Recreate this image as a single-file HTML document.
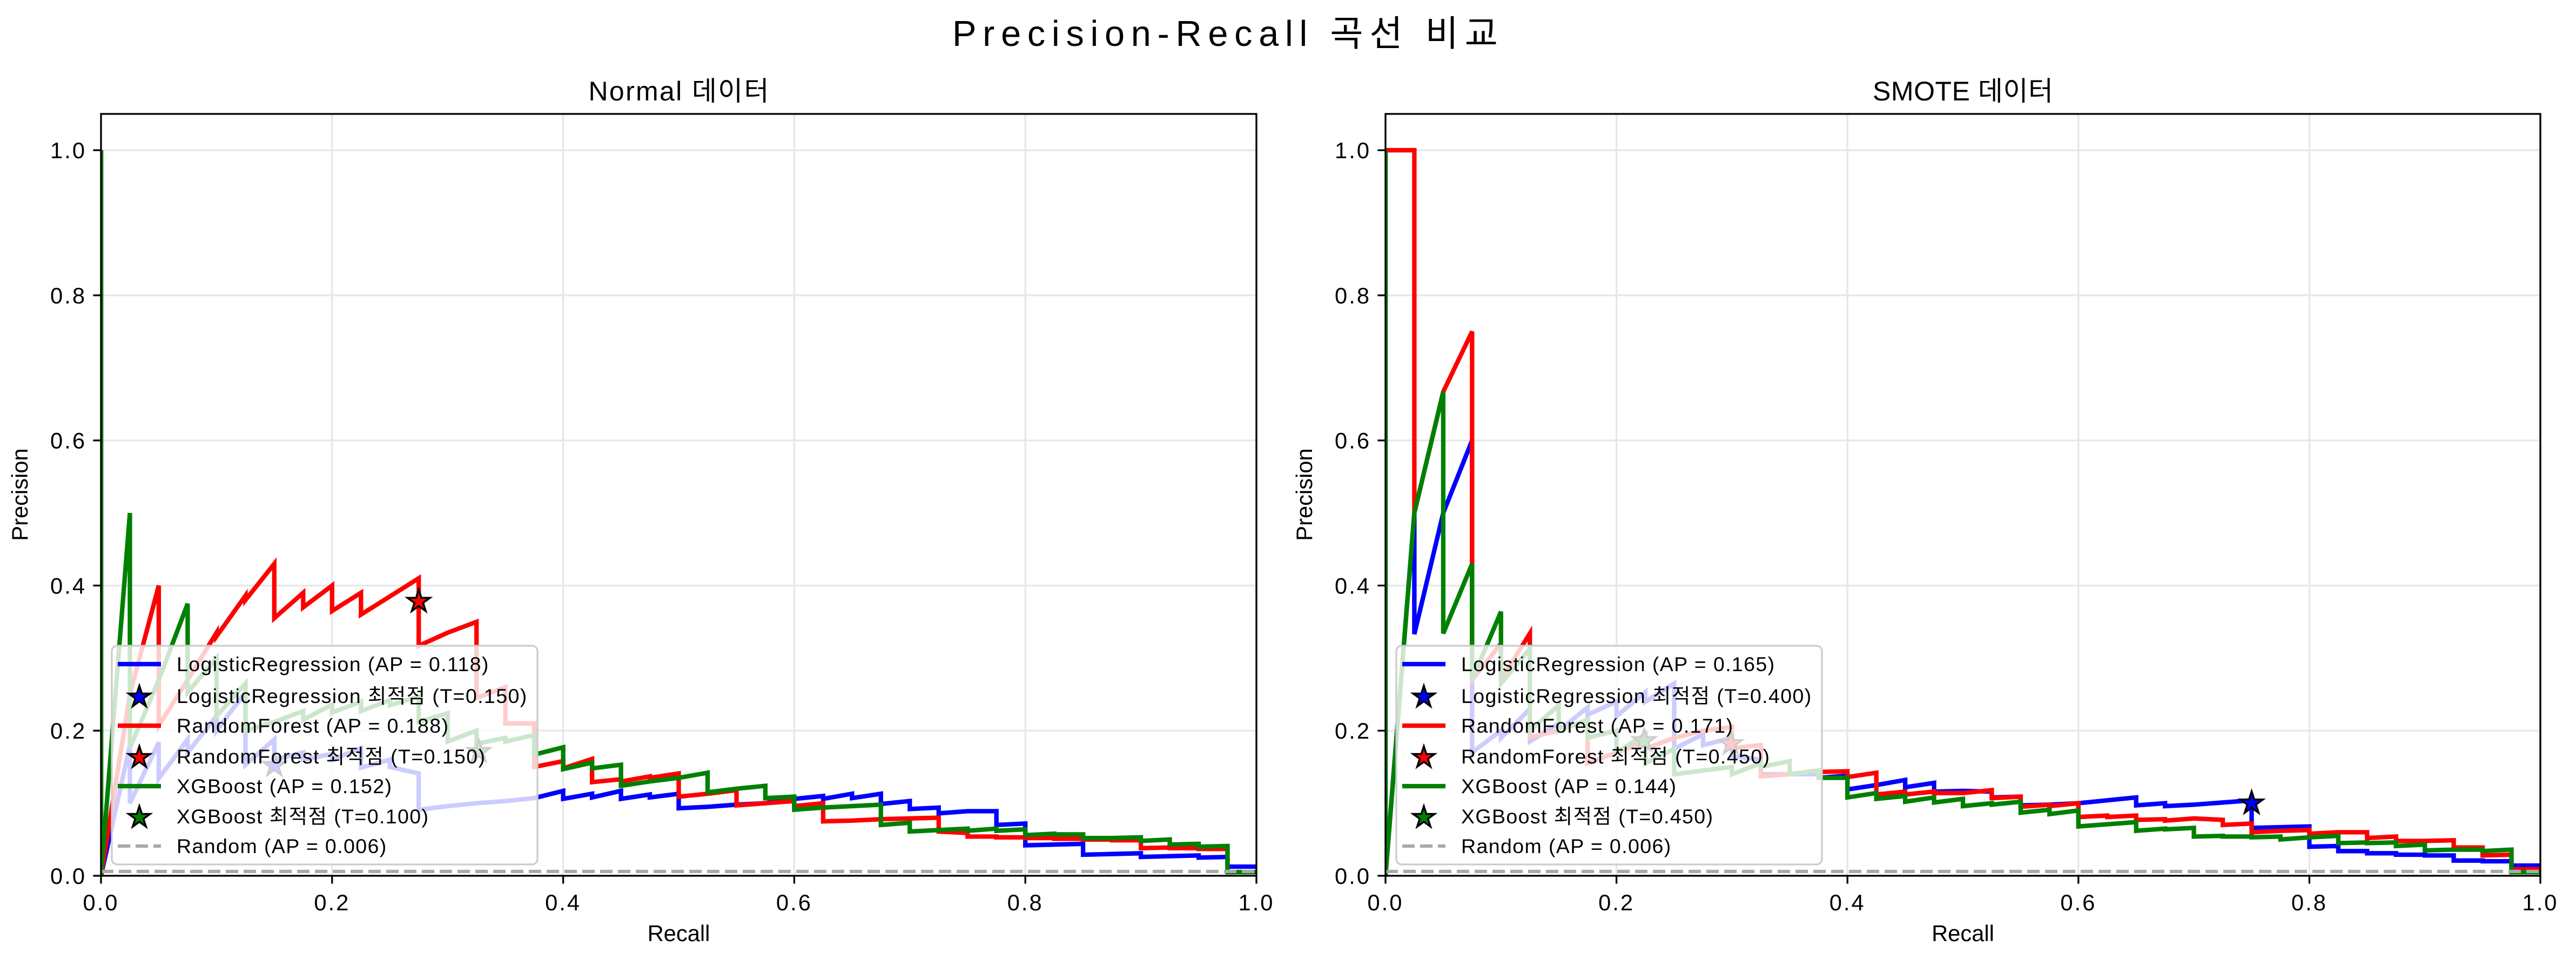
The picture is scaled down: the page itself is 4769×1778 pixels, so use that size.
<!DOCTYPE html>
<html><head><meta charset="utf-8">
<style>
html,body{margin:0;padding:0;background:#fff;}
svg{display:block;font-family:"Liberation Sans","Noto Sans CJK KR",sans-serif;}
</style></head>
<body>
<svg id="fig" xmlns="http://www.w3.org/2000/svg" width="4769" height="1778" viewBox="0 0 4769 1778">
<rect width="4769" height="1778" fill="#fff"/>
<text x="2268" y="85" font-size="66.7" text-anchor="middle" fill="#000" textLength="1010" lengthAdjust="spacing">Precision-Recall 곡선 비교</text>
</svg>
<script>
// ---- data (recall steps k/40, precision on arrival "top" and after drops "bot") ----
const panelTitles = ["Normal 데이터", "SMOTE 데이터"];
const seriesNames = ["LogisticRegression", "RandomForest", "XGBoost"];
const seriesColors = ["#0000ff", "#ff0000", "#008000"];
const xTicks = [0, 0.2, 0.4, 0.6, 0.8, 1.0];
const xTickLabels = ["0.0", "0.2", "0.4", "0.6", "0.8", "1.0"];
const yTicks = [0, 0.2, 0.4, 0.6, 0.8, 1.0];
const yTickLabels = ["0.0", "0.2", "0.4", "0.6", "0.8", "1.0"];
const nPositives = 40;
const randomAP = 0.006;

const normalAP = [0.118, 0.188, 0.152];
const normalThr = [0.150, 0.150, 0.100];
const normalStarRecall = [0.15, 0.275, 0.327];
const normalStarPrecision = [0.152, 0.378, 0.171];
const normalZeroStart = [true, true, true];
const normalLrTop = [0.18,0.184,0.188,0.22,0.253,0.188,0.17,0.168,0.176,0.16,0.141,0.096,0.10,0.103,0.107,0.117,0.113,0.117,0.112,0.113,0.095,0.098,0.10,0.108,0.11,0.113,0.113,0.103,0.094,0.089,0.089,0.072,0.043,0.044,0.03,0.031,0.027,0.028,0.026,0.0126];
const normalLrBot = [0.10,0.134,0.17,0.2,0.153,0.16,0.16,0.16,0.149,0.15,0.091,0.096,0.10,0.103,0.107,0.106,0.108,0.106,0.108,0.093,0.095,0.098,0.10,0.106,0.106,0.107,0.099,0.092,0.086,0.089,0.070,0.042,0.043,0.029,0.03,0.026,0.027,0.025,0.0126,0.0126];
const normalRfTop = [0.25,0.40,0.27,0.335,0.386,0.43,0.39,0.40,0.39,0.385,0.41,0.335,0.35,0.26,0.21,0.158,0.161,0.133,0.137,0.141,0.113,0.118,0.10,0.103,0.10,0.076,0.078,0.079,0.08,0.059,0.054,0.053,0.052,0.051,0.050,0.049,0.039,0.038,0.037,0.005];
const normalRfBot = [0.25,0.207,0.27,0.33,0.38,0.355,0.37,0.365,0.36,0.385,0.317,0.335,0.245,0.21,0.15,0.148,0.129,0.13,0.135,0.109,0.113,0.097,0.10,0.096,0.075,0.076,0.078,0.079,0.061,0.054,0.053,0.052,0.051,0.050,0.049,0.038,0.038,0.037,0.005,0.005];
const normalXgbTop = [0.5,0.27,0.375,0.3,0.265,0.212,0.227,0.236,0.24,0.242,0.247,0.224,0.2,0.19,0.194,0.177,0.156,0.153,0.13,0.135,0.142,0.12,0.124,0.109,0.094,0.096,0.098,0.073,0.063,0.065,0.065,0.064,0.058,0.057,0.052,0.053,0.05,0.044,0.041,0.005];
const normalXgbBot = [0.176,0.27,0.253,0.22,0.2,0.212,0.215,0.225,0.227,0.235,0.212,0.185,0.182,0.185,0.167,0.147,0.148,0.124,0.13,0.135,0.115,0.12,0.107,0.091,0.094,0.096,0.070,0.061,0.063,0.062,0.062,0.056,0.057,0.052,0.052,0.048,0.043,0.040,0.005,0.005];

const smoteAP = [0.165, 0.171, 0.144];
const smoteThr = [0.400, 0.450, 0.450];
const smoteStarRecall = [0.75, 0.299, 0.224];
const smoteStarPrecision = [0.10, 0.182, 0.186];
const smoteZeroStart = [true, false, true];
const smoteLrTop = [0.5,0.5,0.6,0.2,0.23,0.21,0.232,0.24,0.253,0.265,0.195,0.19,0.16,0.14,0.14,0.138,0.125,0.132,0.128,0.117,0.116,0.109,0.098,0.100,0.104,0.108,0.100,0.098,0.101,0.104,0.067,0.068,0.041,0.034,0.031,0.029,0.028,0.021,0.02,0.014];
const smoteLrBot = [0.333,0.5,0.17,0.19,0.185,0.2,0.222,0.22,0.24,0.175,0.18,0.165,0.14,0.14,0.135,0.119,0.125,0.122,0.116,0.117,0.108,0.097,0.098,0.100,0.104,0.097,0.096,0.098,0.101,0.066,0.067,0.040,0.034,0.031,0.029,0.028,0.021,0.020,0.014,0.014];
const smoteRfTop = [1.0,0.667,0.75,0.32,0.334,0.2,0.215,0.17,0.185,0.19,0.2,0.205,0.18,0.14,0.145,0.144,0.142,0.116,0.116,0.114,0.118,0.109,0.098,0.100,0.083,0.083,0.078,0.079,0.077,0.072,0.062,0.063,0.060,0.060,0.054,0.048,0.049,0.039,0.029,0.009];
const smoteRfBot = [0.5,0.667,0.27,0.27,0.191,0.2,0.155,0.17,0.175,0.19,0.2,0.176,0.137,0.14,0.143,0.136,0.112,0.112,0.114,0.114,0.107,0.095,0.096,0.081,0.081,0.077,0.076,0.079,0.070,0.060,0.062,0.058,0.060,0.052,0.048,0.048,0.039,0.028,0.009,0.009];
const smoteXgbTop = [0.5,0.667,0.43,0.364,0.313,0.235,0.215,0.2,0.195,0.175,0.145,0.15,0.155,0.158,0.145,0.135,0.114,0.11,0.108,0.106,0.1,0.102,0.091,0.09,0.071,0.074,0.065,0.066,0.055,0.054,0.054,0.053,0.055,0.046,0.046,0.043,0.036,0.036,0.036,0.005];
const smoteXgbBot = [0.5,0.334,0.27,0.265,0.2,0.2,0.19,0.17,0.155,0.14,0.145,0.14,0.15,0.14,0.135,0.108,0.106,0.102,0.101,0.096,0.098,0.087,0.085,0.068,0.071,0.062,0.064,0.054,0.054,0.053,0.050,0.053,0.045,0.045,0.041,0.035,0.036,0.034,0.005,0.005];

// ---- layout ----
const NS = "http://www.w3.org/2000/svg";
const svg = document.getElementById("fig");
const axY0 = 1622, axY1 = 211, yMax = 1.05;
const panels = [
  {x0: 187, x1: 2326, title: panelTitles[0], ap: normalAP, thr: normalThr, sr: normalStarRecall, sp: normalStarPrecision, zs: normalZeroStart,
   tops: [normalLrTop, normalRfTop, normalXgbTop], bots: [normalLrBot, normalRfBot, normalXgbBot], key: "normal"},
  {x0: 2565, x1: 4703, title: panelTitles[1], ap: smoteAP, thr: smoteThr, sr: smoteStarRecall, sp: smoteStarPrecision, zs: smoteZeroStart,
   tops: [smoteLrTop, smoteRfTop, smoteXgbTop], bots: [smoteLrBot, smoteRfBot, smoteXgbBot], key: "smote"}
];

function el(tag, attrs, parent) {
  const e = document.createElementNS(NS, tag);
  for (const k in attrs) e.setAttribute(k, attrs[k]);
  (parent || svg).appendChild(e);
  return e;
}
function starPath(cx, cy, R) {
  const r = R * 0.381966;
  let d = "";
  for (let i = 0; i < 10; i++) {
    const ang = -Math.PI / 2 + i * Math.PI / 5;
    const rad = i % 2 === 0 ? R : r;
    d += (i === 0 ? "M" : "L") + (cx + rad * Math.cos(ang)).toFixed(1) + "," + (cy + rad * Math.sin(ang)).toFixed(1);
  }
  return d + "Z";
}

panels.forEach((P, pi) => {
  const sx = v => P.x0 + v * (P.x1 - P.x0);
  const sy = v => axY0 - v / yMax * (axY0 - axY1);
  const g = el("g", {});
  
  

  const clipId = "clip" + pi;
  const cp = el("clipPath", {id: clipId}, g);
  el("rect", {x: P.x0, y: axY1, width: P.x1 - P.x0, height: axY0 - axY1}, cp);

  xTicks.forEach((t, i) => {
    const l = el("line", {x1: sx(t), x2: sx(t), y1: axY1, y2: axY0, stroke: "#e7e7e7", "stroke-width": 3.3}, g);
    
    
  });
  yTicks.forEach((t, i) => {
    const l = el("line", {x1: P.x0, x2: P.x1, y1: sy(t), y2: sy(t), stroke: "#e7e7e7", "stroke-width": 3.3}, g);
    
    
  });

  const plot = el("g", {"clip-path": "url(#" + clipId + ")"}, g);
  for (let s = 0; s < 3; s++) {
    const tops = P.tops[s], bots = P.bots[s];
    const pts = [[0, 1]];
    if (P.zs[s]) pts.push([0, 0]);
    for (let k = 1; k <= tops.length; k++) {
      const r = k / nPositives;
      pts.push([r, tops[k - 1]]);
      if (bots[k - 1] !== tops[k - 1]) pts.push([r, bots[k - 1]]);
    }
    const d = pts.map((p, i) => (i ? "L" : "M") + sx(p[0]).toFixed(1) + "," + sy(p[1]).toFixed(1)).join("");
    const line = el("path", {d: d, fill: "none", stroke: seriesColors[s], "stroke-width": 8.3, "stroke-linejoin": "miter", "stroke-miterlimit": 4}, plot);
    
    
    const star = el("path", {d: starPath(sx(P.sr[s]), sy(P.sp[s]), 22), fill: seriesColors[s], stroke: "#000", "stroke-width": 3.5, "stroke-linejoin": "miter"}, plot);
    
    
  }
  const rnd = el("line", {x1: sx(0), x2: sx(1), y1: sy(randomAP), y2: sy(randomAP), stroke: "#a9a9a9", "stroke-width": 6.2, "stroke-dasharray": "23 10"}, plot);
  
  

  const frame = el("rect", {x: P.x0, y: axY1, width: P.x1 - P.x0, height: axY0 - axY1, fill: "none", stroke: "#000", "stroke-width": 3.3}, g);
  
  

  xTicks.forEach((t, i) => {
    el("line", {x1: sx(t), x2: sx(t), y1: axY0, y2: axY0 + 14.6, stroke: "#000", "stroke-width": 3.3}, g);
    const tx = el("text", {x: sx(t), y: 1686, "font-size": 41.7, "text-anchor": "middle", fill: "#000", "letter-spacing": 3}, g);
    tx.textContent = xTickLabels[i];
    
    
  });
  yTicks.forEach((t, i) => {
    el("line", {x1: P.x0 - 14.6, x2: P.x0, y1: sy(t), y2: sy(t), stroke: "#000", "stroke-width": 3.3}, g);
    const ty = el("text", {x: P.x0 - 27, y: sy(t) + 15, "font-size": 41.7, "text-anchor": "end", fill: "#000", "letter-spacing": 3}, g);
    ty.textContent = yTickLabels[i];
    
    
  });
  const xl = el("text", {x: (P.x0 + P.x1) / 2, y: 1743, "font-size": 41.7, "text-anchor": "middle", fill: "#000"}, g);
  xl.textContent = "Recall";
  
  
  const ylx = P.x0 - 136;
  const yl = el("text", {x: ylx, y: 916, "font-size": 41.7, "text-anchor": "middle", fill: "#000", transform: "rotate(-90 " + ylx + " 916)"}, g);
  yl.textContent = "Precision";
  
  
  const tt = el("text", {x: (P.x0 + P.x1) / 2, y: 186, "font-size": 50, "text-anchor": "middle", fill: "#000", textLength: 334, lengthAdjust: "spacing"}, g);
  tt.textContent = P.title;
  
  

  const lx = P.x0 + 20;
  const lg = el("g", {}, g);
  
  
  el("rect", {x: lx, y: 1196, width: 788, height: 405, rx: 10, ry: 10, fill: "rgba(255,255,255,0.8)", stroke: "#cccccc", "stroke-width": 3.3}, lg);
  const rows = [1230, 1289, 1344, 1401, 1456, 1512, 1567];
  for (let s = 0; s < 3; s++) {
    const yA = rows[s * 2], yB = rows[s * 2 + 1];
    el("line", {x1: lx + 11, x2: lx + 91, y1: yA, y2: yA, stroke: seriesColors[s], "stroke-width": 8.3}, lg);
    const t1 = el("text", {x: lx + 120, y: yA + 13, "font-size": 37.5, fill: "#000", "letter-spacing": 1.4}, lg);
    t1.textContent = seriesNames[s] + " (AP = " + P.ap[s].toFixed(3) + ")";
    
    
    el("path", {d: starPath(lx + 51, yB + 2, 21), fill: seriesColors[s], stroke: "#000", "stroke-width": 3.5}, lg);
    const t2 = el("text", {x: lx + 120, y: yB + 13, "font-size": 37.5, fill: "#000", "letter-spacing": 1.4}, lg);
    t2.textContent = seriesNames[s] + " 최적점 (T=" + P.thr[s].toFixed(3) + ")";
    
    
  }
  el("line", {x1: lx + 11, x2: lx + 91, y1: rows[6], y2: rows[6], stroke: "#a9a9a9", "stroke-width": 6.2, "stroke-dasharray": "23 10"}, lg);
  const t3 = el("text", {x: lx + 120, y: rows[6] + 13, "font-size": 37.5, fill: "#000", "letter-spacing": 1.4}, lg);
  t3.textContent = "Random (AP = " + randomAP.toFixed(3) + ")";
  
  
});
</script>
</body></html>
